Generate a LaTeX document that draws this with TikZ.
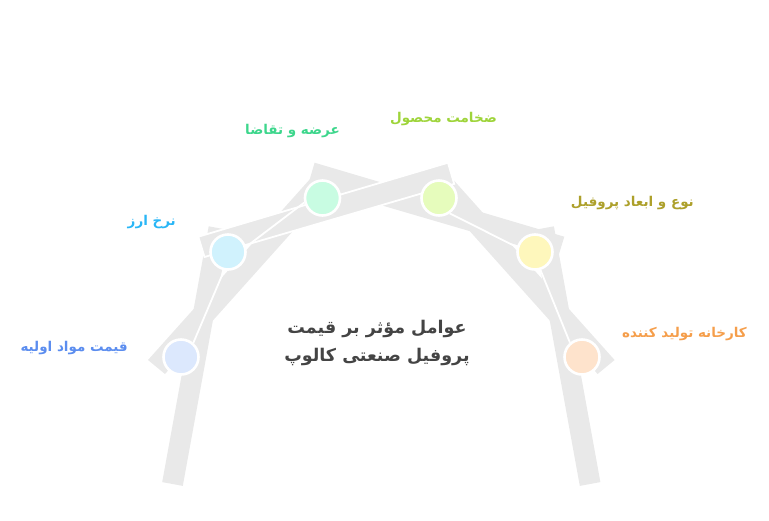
\documentclass[tikz,border=0pt]{standalone}
\usepackage{fontspec}
\newfontfamily\fa[Script=Arabic]{DejaVu Sans}
\TeXXeTstate=1
\definecolor{band}{HTML}{E9E9E9}
\definecolor{titlec}{HTML}{444444}
\definecolor{cA}{HTML}{DCE8FD}
\definecolor{cB}{HTML}{D0F2FD}
\definecolor{cC}{HTML}{C8FCE2}
\definecolor{cD}{HTML}{E6FCBC}
\definecolor{cE}{HTML}{FEF7BC}
\definecolor{cF}{HTML}{FEE3CC}
\definecolor{tA}{HTML}{5B8DEF}
\definecolor{tB}{HTML}{29B6F6}
\definecolor{tC}{HTML}{3DD68C}
\definecolor{tD}{HTML}{9ED43A}
\definecolor{tE}{HTML}{ADA02B}
\definecolor{tF}{HTML}{F59E4B}
\begin{document}
\begin{tikzpicture}[x=1pt,y=-1pt,
  plank/.style={fill=band,draw=none},
  plankw/.style={fill=band,draw=white,line width=1.8pt,line join=miter},
  dot/.style={circle,minimum size=35pt,inner sep=0pt,draw=white,line width=2.6pt},
  seam/.style={draw=white,line width=1.8pt},
  lab/.style={font=\fa\bfseries\fontsize{13.5}{16}\selectfont,inner sep=0pt},
  ttl/.style={font=\fa\bfseries\fontsize{17.5}{28}\selectfont,text=titlec,align=center,inner sep=0pt}]
\useasboundingbox (0,0) rectangle (769,520);
% legs
\fill[plank] (162.2,482.1) -- (182.8,485.9) -- (229.3,230.1) -- (208.7,226.3) -- cycle;
\fill[plank] (600.4,482.1) -- (579.8,485.9) -- (533.3,230.1) -- (553.9,226.3) -- cycle;
% diagonal planks
\fill[plank] (148,360) -- (165,374) -- (338.7,180) -- (321.7,166) -- cycle;
\fill[plank] (614.6,360) -- (597.6,374) -- (424,180) -- (441,166) -- cycle;
% crossing planks
\fill[plank] (564.3,236.7) -- (558.1,257) -- (308.4,183.9) -- (314.6,162.7) -- cycle;
\filldraw[plankw] (198.3,236.7) -- (204.5,257) -- (454.2,183.9) -- (448,162.7) -- cycle;
% circles
\node[dot,fill=cA] (c1) at (181,357) {};
\node[dot,fill=cB] (c2) at (228,252) {};
\node[dot,fill=cC] (c3) at (322.5,198) {};
\node[dot,fill=cD] (c4) at (439,198) {};
\node[dot,fill=cE] (c5) at (535,252) {};
\node[dot,fill=cF] (c6) at (582,357) {};
% seams
\draw[seam] (c1.49) -- (c2.258);
\draw[seam] (c2.16) -- (c3.194);
\draw[seam] (c4.305) -- (c5.165);
\draw[seam] (c5.287) -- (c6.130);
% labels
\node[lab,text=tA,anchor=east] (l1) at (128,348) {\beginR قیمت مواد اولیه\endR};
\node[lab,text=tB,anchor=east] (l2) at (176,222) {\beginR نرخ ارز\endR};
\node[lab,text=tC,anchor=east] (l3) at (340,131) {\beginR عرضه و تقاضا\endR};
\node[lab,text=tD,anchor=east] (l4) at (497,119) {\beginR ضخامت محصول\endR};
\node[lab,text=tE,anchor=east] (l5) at (694,203) {\beginR نوع و ابعاد پروفیل\endR};
\node[lab,text=tF,anchor=east] (l6) at (747,334) {\beginR کارخانه تولید کننده\endR};
\node[ttl] (title) at (377,343) {\beginR عوامل مؤثر بر قیمت\endR\\\beginR پروفیل صنعتی کالوپ\endR};
\end{tikzpicture}
\end{document}
